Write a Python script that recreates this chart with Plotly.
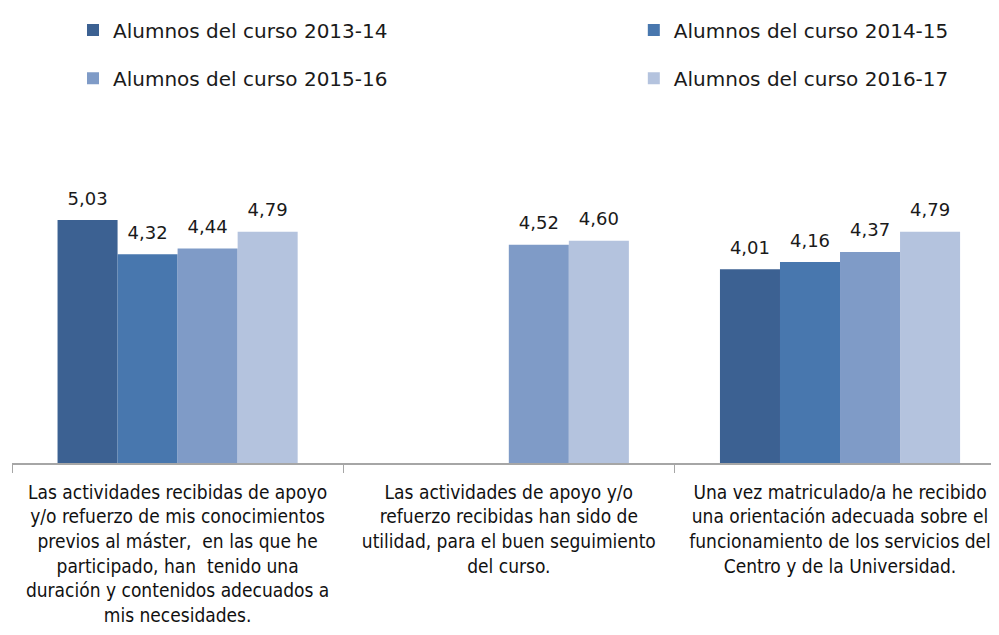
import plotly.graph_objects as go

# categorías (preguntas) y valores por curso
categorias = [
    "Las actividades recibidas de apoyo<br>y/o refuerzo de mis conocimientos<br>previos al máster,  en las que he<br>participado, han  tenido una<br>duración y contenidos adecuados a<br>mis necesidades.",
    "Las actividades de apoyo y/o<br>refuerzo recibidas han sido de<br>utilidad, para el buen seguimiento<br>del curso.",
    "Una vez matriculado/a he recibido<br>una orientación adecuada sobre el<br>funcionamiento de los servicios del<br>Centro y de la Universidad.",
]
curso_2013_14 = [5.03, None, 4.01]
curso_2014_15 = [4.32, None, 4.16]
curso_2015_16 = [4.44, 4.52, 4.37]
curso_2016_17 = [4.79, 4.60, 4.79]

series = [
    ("Alumnos del curso 2013-14", curso_2013_14, "#3c6192"),
    ("Alumnos del curso 2014-15", curso_2014_15, "#4877ae"),
    ("Alumnos del curso 2015-16", curso_2015_16, "#7f9bc7"),
    ("Alumnos del curso 2016-17", curso_2016_17, "#b4c3de"),
]

FONT = "DejaVu Sans Condensed, DejaVu Sans, sans-serif"
WIDE = "DejaVu Sans, sans-serif"

# una leyenda por entrada para reproducir la rejilla 2x2
legend_ids = ["legend", "legend2", "legend3", "legend4"]
legend_pos = [(0.0618, 0.965), (0.630, 0.965), (0.0618, 0.888), (0.630, 0.888)]

fig = go.Figure()
for i, ((nombre, valores, color), leg) in enumerate(zip(series, legend_ids)):
    fig.add_trace(go.Bar(
        x=categorias,
        y=valores,
        name=nombre,
        marker=dict(color=color, line=dict(width=0)),
        offsetgroup=str(i),
        legend=leg,
    ))
    # etiquetas de valor (coma decimal) encima de cada barra
    fig.add_trace(go.Scatter(
        x=categorias,
        y=valores,
        mode="markers+text",
        marker=dict(size=16, opacity=0),
        text=[None if v is None else f"{v:.2f}".replace(".", ",") for v in valores],
        textposition="top center",
        textfont=dict(size=18, color="#1a1a1a", family=WIDE),
        offsetgroup=str(i),
        cliponaxis=False,
        showlegend=False,
        hoverinfo="skip",
    ))

layout_legends = {}
for leg, (lx, ly) in zip(legend_ids, legend_pos):
    layout_legends[leg] = dict(
        x=lx, xanchor="left", y=ly, yanchor="middle", yref="container",
        font=dict(size=20, family=WIDE), bgcolor="rgba(0,0,0,0)",
    )

fig.update_layout(
    width=991,
    height=627,
    margin=dict(l=4, r=0, t=142, b=172, autoexpand=False),
    barmode="group",
    bargap=0.275,
    bargroupgap=0,
    scattermode="group",
    scattergap=0.275,
    showlegend=True,
    plot_bgcolor="white",
    paper_bgcolor="white",
    font=dict(family=FONT, color="#1a1a1a"),
    **layout_legends,
)

fig.update_xaxes(
    range=[-0.5, 2.48],
    automargin=False,
    showline=True, linecolor="#a6a6a6", linewidth=1.5,
    ticks="outside", tickson="boundaries", ticklen=8, tickcolor="#a6a6a6",
    tickfont=dict(size=19, color="#111111"),
    ticklabelstandoff=11,
    showgrid=False,
)
fig.update_yaxes(
    range=[0, 6.48],
    visible=False,
    showgrid=False,
    zeroline=False,
)

fig.write_html("out.html")
